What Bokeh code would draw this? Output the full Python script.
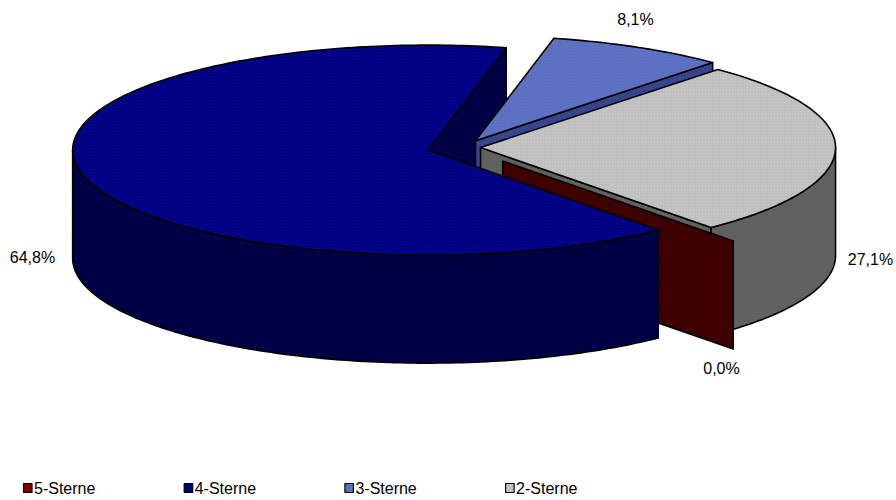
import numpy as np
from bokeh.plotting import figure
from bokeh.models import Range1d, ColumnDataSource
from bokeh.core.properties import value
from bokeh.embed import file_html
from bokeh.resources import INLINE

# Hotel categories and their shares in percent
categories = ["5-Sterne", "4-Sterne", "3-Sterne", "2-Sterne"]
shares = [0.0, 64.8, 8.1, 27.1]
share_labels = ["0,0%", "64,8%", "8,1%", "27,1%"]

# Slice styling: top surface, side shade, texture dots, explosion distance
top_colors = ["#800000", "#000080", "#5A6FC0", "#C4C4C4"]
side_colors = ["#400000", "#000042", "#34438C", "#626262"]
dot_colors = ["#600000", "#1010A8", "#7080D0", "#A8A8A8"]
side_dots = ["#300000", "#00005A", "#4050A0", "#505050"]
explode = [0.17, 0.104, 0.073, 0.048]

# Pie geometry (screen units)
CX, CY = 463.0, 147.0
RX, RY = 355.0, 105.0
DEPTH = 108.0
START = -49.5  # first slice starts here, slices run clockwise

# Label anchor positions and legend layout
label_pos = [(721, 368), (32, 257), (635, 19), (870, 259)]
legend_x0, legend_dx, legend_y = 23.0, 160.7, 487.5

W, H = 896, 500


def rim(cx, cy, ang, dz=0.0):
    t = np.radians(ang)
    return cx + RX * np.cos(t), cy - RY * np.sin(t) + dz


def arc(cx, cy, a1, a2, dz=0.0):
    n = max(2, int(abs(a2 - a1) / 1.0) + 2)
    t = np.radians(np.linspace(a1, a2, n))
    return list(cx + RX * np.cos(t)), list(cy - RY * np.sin(t) + dz)


sides = []   # (key, xs, ys, fill, dots)
tops = []

a = START
for i, s in enumerate(shares):
    sweep = s / 100.0 * 360.0
    a_s, a_e = a, a - sweep
    a = a_e
    bis = np.radians((a_s + a_e) / 2.0)
    cx = CX + explode[i] * RX * np.cos(bis)
    cy = CY - explode[i] * RY * np.sin(bis)

    # cut faces at both slice edges, kept when facing the viewer
    for ang, normal in ((a_s, a_s + 90.0), (a_e, a_e - 90.0)):
        if np.sin(np.radians(normal)) < 0:
            rx_, ry_ = rim(cx, cy, ang)
            xs = [cx, rx_, rx_, cx]
            ys = [cy, ry_, ry_ + DEPTH, cy + DEPTH]
            key = (cy + ry_) / 2.0
            sides.append((key, xs, ys, side_colors[i], side_dots[i]))

    # outer wall over the front half of the ellipse
    for k in range(-2, 2):
        lo = max(a_e, -180.0 + 360.0 * k)
        hi = min(a_s, 360.0 * k)
        if hi - lo > 0.01:
            tx, ty = arc(cx, cy, hi, lo)
            bx, by = arc(cx, cy, lo, hi, DEPTH)
            key = float(np.mean(ty))
            sides.append((key, tx + bx, ty + by, side_colors[i], side_dots[i]))

    # top surface
    if sweep > 0:
        tx, ty = arc(cx, cy, a_s, a_e)
        tops.append(([cx] + tx, [cy] + ty, top_colors[i], dot_colors[i]))

sides.sort(key=lambda f: f[0])
faces = [(f[1], f[2], f[3], f[4]) for f in sides] + tops

src = ColumnDataSource(dict(
    xs=[f[0] for f in faces],
    ys=[f[1] for f in faces],
    fill=[f[2] for f in faces],
    dots=[f[3] for f in faces],
))

p = figure(width=W, height=H, x_range=Range1d(0, W), y_range=Range1d(H, 0),
           output_backend="svg", toolbar_location=None,
           x_axis_location=None, y_axis_location=None, min_border=0)
p.grid.visible = False
p.outline_line_color = None
p.background_fill_color = "white"
p.border_fill_color = "white"

p.patches("xs", "ys", source=src, fill_color="fill", line_color="black",
          line_width=1.6, line_join="round",
          hatch_pattern="dot", hatch_color="dots", hatch_scale=3,
          hatch_weight=0.8, hatch_alpha=0.6)

# percentage labels
p.text(x=[q[0] for q in label_pos], y=[q[1] for q in label_pos], text=share_labels,
       text_align="center", text_baseline="middle", text_color="black",
       text_font=value("Liberation Sans"), text_font_size=value("16px"))

# legend row
lx = [legend_x0 + i * legend_dx for i in range(len(categories))]
p.quad(left=lx, right=[x + 8.5 for x in lx],
       top=[legend_y - 4.5] * 4, bottom=[legend_y + 4.5] * 4,
       fill_color=top_colors, line_color="black", line_width=1.2)
p.text(x=[x + 10.5 for x in lx], y=[legend_y + 0.5] * 4, text=categories,
       text_align="left", text_baseline="middle", text_color="black",
       text_font=value("Liberation Sans"), text_font_size=value("16px"))

open("out.html", "w").write(file_html(p, INLINE))
